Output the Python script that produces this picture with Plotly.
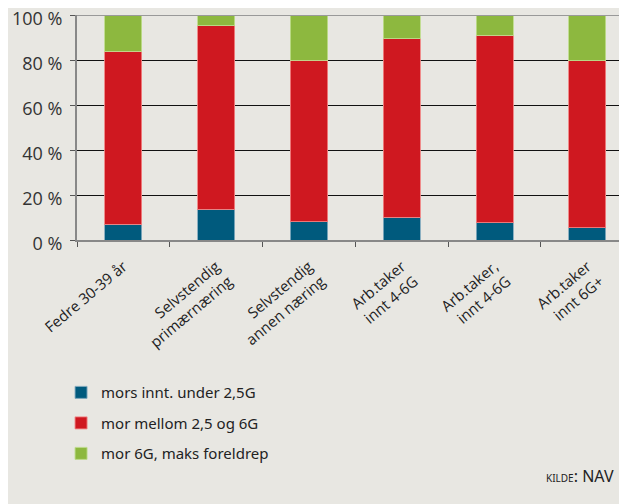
import plotly.graph_objects as go

# Categories along the x axis
categories = ["Fedre 30-39 år", "Selvstendig<br>primærnæring", "Selvstendig<br>annen næring",
              "Arb.taker<br>innt 4-6G", "Arb.taker,<br>innt 4-6G", "Arb.taker<br>innt 6G+"]

# Shares in percent
under_25g = [7.0, 13.6, 8.1, 10.1, 7.6, 5.5]
mellom_25_6g = [77.0, 81.6, 71.9, 79.4, 83.4, 74.1]
over_6g = [16.0, 4.8, 20.0, 10.5, 9.0, 20.4]

series_names = ["mors innt. under 2,5G", "mor mellom 2,5 og 6G", "mor 6G, maks foreldrep"]
colors = ["#005a7d", "#cf1820", "#8db83f"]
edges = ["rgba(130,170,190,0.9)", "rgba(240,130,130,0.9)", "rgba(190,220,140,0.9)"]

bg = "#e8e7e2"
fig = go.Figure()

for name, vals, col, edge in zip(series_names, [under_25g, mellom_25_6g, over_6g], colors, edges):
    fig.add_trace(go.Bar(
        x=categories, y=vals, name=name, legendgroup=name,
        marker=dict(color=col, line=dict(color=edge, width=1)),
        width=0.4,
    ))

# the page body adds an 8px margin, so the figure is sized and offset to fit
fig.update_layout(
    width=619, height=496,
    barmode="stack",
    paper_bgcolor=bg, plot_bgcolor=bg,
    margin=dict(l=69, r=0, t=7, b=264, autoexpand=False),
    font=dict(family="Open Sans", color="#333333"),
    legend=dict(
        x=-0.029, y=-0.605, xanchor="left", yanchor="top",
        traceorder="grouped", tracegroupgap=8,
        font=dict(family="Noto Sans", size=15, color="#222222"),
        bgcolor="rgba(0,0,0,0)",
    ),
    showlegend=True,
)

fig.update_yaxes(
    range=[0, 100],
    tickvals=[0, 20, 40, 60, 80, 100],
    ticktext=["0 %", "20 %", "40 %", "60 %", "80 %", "100 %"],
    tickfont=dict(family="Open Sans", size=18, color="#333333"),
    showgrid=True, gridcolor="#111111", gridwidth=1,
    zeroline=False, automargin=False,
    showline=True, linecolor="#888888", linewidth=2,
    ticks="outside", ticklen=5, tickcolor="#555555",
    ticklabelstandoff=4, ticklabelshift=4, ticklabeloverflow="allow",
)

fig.update_xaxes(
    range=[-0.5, 5.427],
    tickangle=-40, automargin=False,
    tickfont=dict(family="Open Sans", size=15, color="#222222"),
    showline=True, linecolor="#888888", linewidth=2,
    ticks="outside", tickson="boundaries", ticklen=5, tickcolor="#555555",
    ticklabelstandoff=10, ticklabeloverflow="allow",
)

# top border line at 100 %
fig.add_hline(y=100, line=dict(color="#999999", width=2))

fig.add_annotation(
    xref="paper", yref="paper", x=0.98, y=-1.049, xanchor="right", yanchor="middle",
    text="<span style='font-size:10px'>KILDE</span><span style='font-size:16px'>: NAV</span>",
    showarrow=False, font=dict(family="Noto Sans", color="#222222"),
)

fig.write_html("out.html")
